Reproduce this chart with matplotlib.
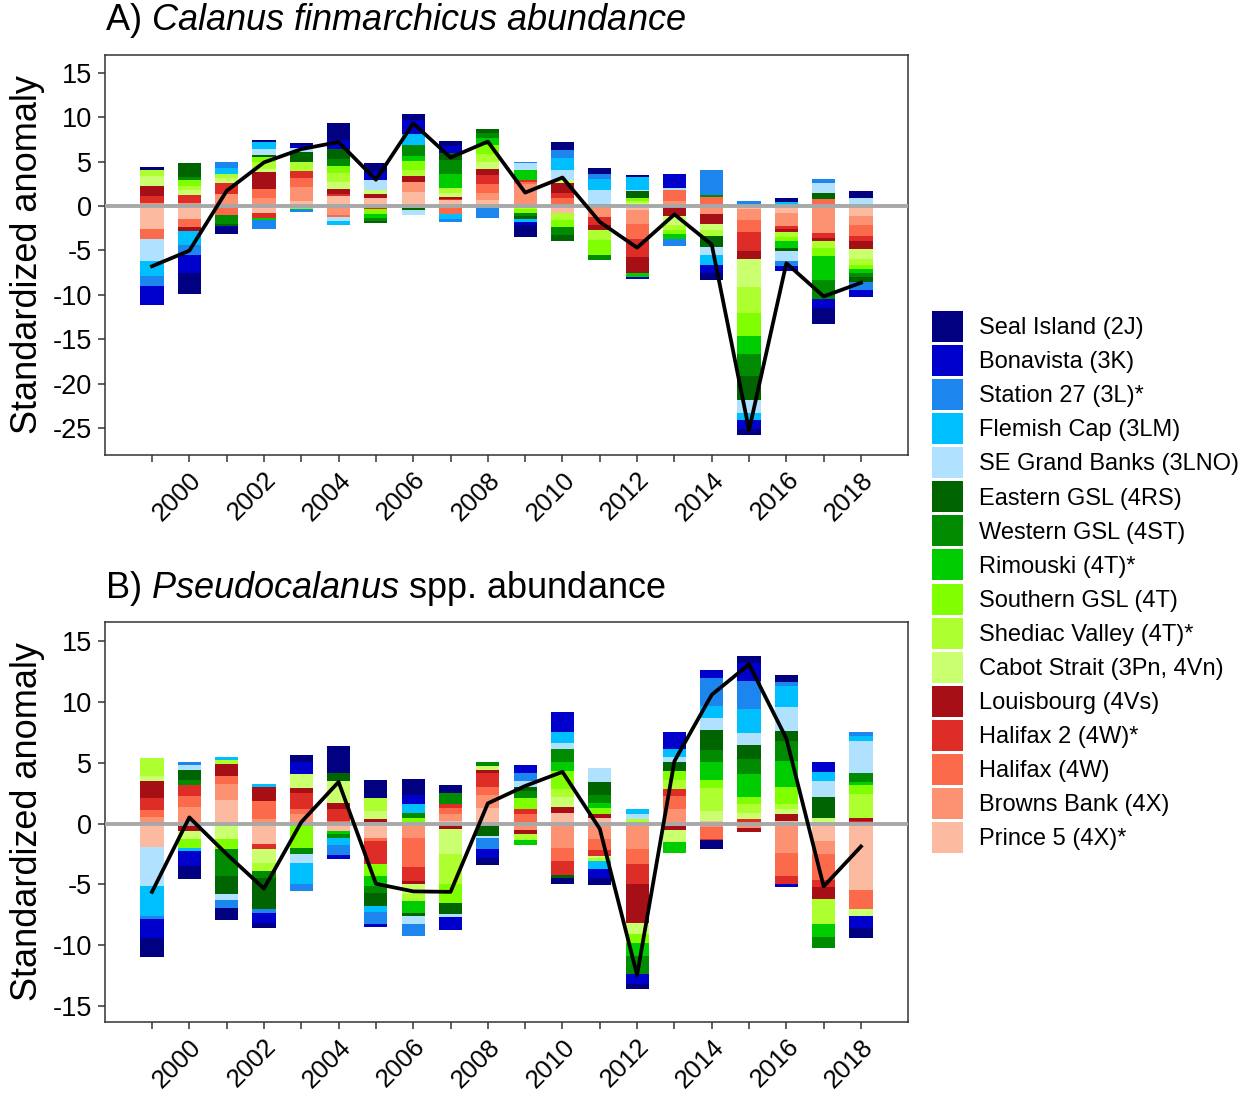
import numpy as np
import matplotlib
matplotlib.use("Agg")
import matplotlib.pyplot as plt
from matplotlib.patches import Patch

plt.rcParams['font.family'] = ['Liberation Sans', 'DejaVu Sans']
plt.rcParams['mathtext.fontset'] = 'custom'
plt.rcParams['mathtext.rm'] = 'Liberation Sans'
plt.rcParams['mathtext.it'] = 'Liberation Sans:italic'
plt.rcParams['axes.unicode_minus'] = False

years = list(range(1999, 2019))

regions = ["Seal Island (2J)", "Bonavista (3K)", "Station 27 (3L)*", "Flemish Cap (3LM)",
           "SE Grand Banks (3LNO)", "Eastern GSL (4RS)", "Western GSL (4ST)", "Rimouski (4T)*",
           "Southern GSL (4T)", "Shediac Valley (4T)*", "Cabot Strait (3Pn, 4Vn)",
           "Louisbourg (4Vs)", "Halifax 2 (4W)*", "Halifax (4W)", "Browns Bank (4X)",
           "Prince 5 (4X)*"]

region_colors = ["#000080", "#0000CD", "#1C86EE", "#00BFFF", "#B0E2FF", "#006400",
                 "#008B00", "#00CD00", "#7FFF00", "#ADFF2F", "#CAFF70", "#A50F15",
                 "#DE2D26", "#FB6A4A", "#FC9272", "#FCBBA1"]

# Calanus finmarchicus abundance anomalies, 1999-2018
cfin_seal_island = [0.23, -2.3, -0.85, 0.2, 0.2, 1.9, 1.0, 0.65, 0.55, 0, -1.3, 0.8, 0.7, 0.25, 0, -0.85, -0.75, 0.45, -1.8, 0.75]
cfin_bonavista = [-2.07, -2.07, -0.1, 0, 0.3, 1.0, 0.9, 1.5, 0.75, 0, -0.35, 0, 0, -0.25, 1.5, -0.9, -0.94, -0.6, -1.0, -0.85]
cfin_station27 = [-1.2, -1.13, 0.65, -1.0, -0.3, 0, 0, 0, -0.4, -1.25, 0.2, 1.0, 0.5, 0, -0.8, 2.8, 0.6, -0.5, 0.45, -0.9]
cfin_flemish_cap = [-1.7, -1.58, 0.7, 0.8, 0, -0.45, 0, 1.25, -0.55, 0, -0.35, 1.3, 1.25, 1.45, 0, -1.05, -0.86, 0.45, 0, 0]
cfin_se_grand_banks = [-2.4, 0, 0, 0.75, 0.5, -0.35, 1.1, -0.5, 0, -0.15, 0.7, 1.1, 1.6, 0.15, 0.25, -0.95, -1.43, -1.15, 1.13, 0.9]
cfin_eastern_gsl = [0, 1.58, -0.25, 0.15, 1.05, 1.15, -0.25, -0.25, 0.8, 0.45, -0.4, -0.65, 0.2, 0.7, 0, -1.2, -2.7, -0.35, 0.68, -0.6]
cfin_western_gsl = [0, 0.38, -1.0, 0, 0, 0.75, -0.3, 1.25, 1.6, 0.55, -0.35, -0.95, -0.55, 0, 0, 0.15, -2.45, 0, -2.1, -0.4]
cfin_rimouski = [0, 0, 0, -0.15, 0, 0, -0.45, 0.6, 1.6, 0.75, 1.15, 0, 0, -0.35, -0.5, 0, -2.07, -0.75, -2.7, -0.45]
cfin_southern_gsl = [0, 0.6, 0, 0.6, -0.35, 0.8, -0.5, 1.0, 0, 1.0, -0.35, -0.8, -1.7, 0.35, -0.5, 0, -2.6, -0.55, -0.9, -0.5]
cfin_shediac = [0.7, 0.5, 0.45, 0.8, 1.1, 0.95, 0, 0.65, 0.5, 1.0, -0.4, -0.7, -1.1, 0.3, -0.6, -0.7, -2.9, -0.5, -0.8, -0.65]
cfin_cabot = [1.1, 0.6, 0.5, 0.3, 0, 0.85, 0.5, -0.25, 0.5, 0.7, 0, 0.35, 0, 0.3, -0.95, -0.7, -3.2, 0, 0, -1.1]
cfin_louisbourg = [1.2, -0.45, 0, 1.95, 0, 0.6, 0.5, 0.75, 0.2, 0.75, 0, 1.1, -0.6, -1.9, -1.15, -1.1, -0.85, -0.3, -0.35, -0.85]
cfin_halifax2 = [0.8, 0.9, 1.2, -0.6, 0.75, 0.2, -0.4, 0, 0.15, 1.0, 0.2, 0.65, -0.8, -2.0, 0, 0, -2.15, -0.35, -0.5, -0.65]
cfin_halifax = [-1.2, -0.94, -1.0, 0.95, 1.0, -0.3, 0, 0, -0.9, 0.95, 0.3, 0.85, 0, -1.7, 1.25, 1.05, -1.35, 0, 0.8, -1.25]
cfin_browns_bank = [0.3, 0.3, 1.4, 0.95, 1.6, -1.0, 0, 1.05, 0, 0.85, 2.45, 0, -1.3, -1.5, 0.55, -0.9, -1.3, -1.5, -3.0, -0.95]
cfin_prince5 = [-2.55, -1.43, 0, -0.8, 0.55, 1.1, 0.85, 1.6, 0.65, 0.65, 0, -0.85, 0, -0.5, 0, 0, -0.3, -0.8, -0.1, -1.15]

# Pseudocalanus spp. abundance anomalies, 1999-2018
pseudo_seal_island = [-1.6, -1.1, -1.04, -0.41, 0.63, 2.16, 1.48, 1.29, 0.6, -0.63, 0, -0.49, -0.55, -0.41, 0, -0.7, 0.55, 0.52, 0, -0.82]
pseudo_bonavista = [-1.5, -1.23, 0, -0.82, 0.96, -0.36, -0.25, 0.77, -1.1, -0.74, 0.71, 1.62, -0.74, -0.82, 1.42, 0.68, 1.51, -0.2, 0.77, -1.01]
pseudo_station27 = [-0.27, 0.27, -0.6, -0.3, -0.6, -0.82, -0.95, -0.96, 0, -0.9, 0.6, 0, 0, 0, 0, 2.33, 2.33, 0.36, 0, 0.36]
pseudo_flemish_cap = [-2.47, -0.22, 0.22, 0.22, -1.73, -0.55, -0.55, 0.68, 0, 0, 0, 0.9, -0.63, 0.41, 0.68, 0.96, 1.92, 1.73, 0.77, 0.41]
pseudo_se_grand_banks = [-3.23, 0.44, -0.55, 0, -0.68, 0, 0, -0.68, -0.27, -0.15, 0.55, 0.55, 1.15, 0.41, 0.41, 0.96, 1.01, 1.97, 1.29, 2.6]
pseudo_eastern_gsl = [0, 0.82, -1.45, -2.55, 0, 0.68, -1.05, -0.2, -0.9, -1.0, 0.3, -0.22, 1.1, 0, 0.68, 1.64, 1.18, 0.82, 1.73, 0]
pseudo_western_gsl = [0, 0.38, -2.19, -0.6, -0.55, -0.33, -0.6, 0.41, 0.96, 0.33, 0.6, 1.01, 0.63, -1.5, 0, 1.01, 1.23, 1.64, -0.88, 0.74]
pseudo_rimouski = [0, 0, 0, 0, 0, -0.27, -0.8, -1.04, 0, 0, -0.38, 0.77, 0.47, -1.1, -0.9, 1.53, 1.86, 2.14, -1.04, 0.27]
pseudo_southern_gsl = [0, -0.74, -0.82, 0, -1.97, 0, -1.0, 0.49, -1.5, 0, 0.9, 1.51, 0.49, -0.75, 0.77, 0.6, 0.6, 1.37, 0, 0.77]
pseudo_shediac = [1.42, 0, 0.33, -0.68, 0, 0, 1.04, -0.55, -2.47, 0, -0.49, 0.63, -0.25, 0.36, 0.74, 1.92, 0.68, 0.42, -2.05, 1.92]
pseudo_cabot = [0.47, -0.68, -1.29, -1.1, 1.1, 1.84, 0.68, -0.85, -2.05, 0.36, 0, 0.82, -0.2, -0.9, -0.94, 0.82, 0.55, 0.4, 0.47, -0.55]
pseudo_louisbourg = [1.37, -0.6, 0.96, 1.15, 0.41, 0.49, 0.2, -0.22, -0.47, 0.25, -0.33, 0.47, 0.27, -3.2, -0.36, 0, -0.35, 0.6, -1.01, 0.27]
pseudo_halifax2 = [0.99, 0.9, 0, -0.47, 1.37, 0.96, -1.85, -1.15, 0.33, 1.1, 0.41, -1.15, -0.47, -1.59, 0.55, -0.12, 0.36, -0.68, -0.55, 0.2]
pseudo_halifax = [0.52, 0.9, 0.63, 1.5, 0.36, 0.22, -0.25, -2.41, 0.44, 0.68, 0.77, -1.1, -0.9, -1.23, 1.1, -0.95, 0, -1.92, -2.14, -1.56]
pseudo_browns_bank = [0.58, 1.37, 1.34, 0.36, 0.82, 0, 0.16, -1.15, 0.6, 1.04, -0.55, -1.97, -1.29, -1.92, 1.18, -0.3, -0.35, -2.38, -1.1, 0]
pseudo_prince5 = [-1.89, 0, 1.95, -1.64, 0, -0.6, -1.2, 0, 0.22, 1.32, 0, 0.9, 0.49, -0.2, -0.2, 0.2, 0, 0.2, -1.42, -5.48]

cfin_series = [cfin_seal_island, cfin_bonavista, cfin_station27, cfin_flemish_cap,
               cfin_se_grand_banks, cfin_eastern_gsl, cfin_western_gsl, cfin_rimouski,
               cfin_southern_gsl, cfin_shediac, cfin_cabot, cfin_louisbourg, cfin_halifax2,
               cfin_halifax, cfin_browns_bank, cfin_prince5]
pseudo_series = [pseudo_seal_island, pseudo_bonavista, pseudo_station27, pseudo_flemish_cap,
                 pseudo_se_grand_banks, pseudo_eastern_gsl, pseudo_western_gsl, pseudo_rimouski,
                 pseudo_southern_gsl, pseudo_shediac, pseudo_cabot, pseudo_louisbourg,
                 pseudo_halifax2, pseudo_halifax, pseudo_browns_bank, pseudo_prince5]

W, H = 1251, 1093
fig = plt.figure(figsize=(W / 100, H / 100), dpi=100)


def px_axes(left, top, right, bottom):
    return fig.add_axes([left / W, 1 - bottom / H, (right - left) / W, (bottom - top) / H])


def draw_panel(ax, series, ylim, yticks):
    x = np.array(years, dtype=float)
    pos = np.zeros(len(years))
    neg = np.zeros(len(years))
    # stack outward from zero: last region first
    for vals, col in zip(reversed(series), reversed(region_colors)):
        v = np.array(vals, dtype=float)
        p = np.where(v > 0, v, 0)
        n = np.where(v < 0, v, 0)
        ax.bar(x, p, bottom=pos, width=0.62, color=col, linewidth=0, zorder=2)
        ax.bar(x, n, bottom=neg, width=0.62, color=col, linewidth=0, zorder=2)
        pos += p
        neg += n
    total = np.sum(np.array(series, dtype=float), axis=0)
    ax.axhline(0, color="#A8A8A8", lw=2.8, zorder=3)
    ax.plot(x, total, color="black", lw=2.7, zorder=4)
    ax.set_xlim(1997.74, 2019.26)
    ax.set_ylim(*ylim)
    ax.set_yticks(yticks)
    ax.set_xticks(years)
    ax.set_xticklabels([str(y) if y % 2 == 0 else "" for y in years],
                       rotation=45, ha="right", va="top", rotation_mode="anchor")
    ax.tick_params(axis="both", colors="#333333", labelcolor="black", length=5, width=1.1)
    ax.tick_params(axis="y", labelsize=19.5, pad=4.5)
    ax.tick_params(axis="x", labelsize=18.5, pad=4)
    for s in ax.spines.values():
        s.set_color("#333333")
        s.set_linewidth(1.1)
    ax.set_ylabel("Standardized anomaly", fontsize=26)
    ax.yaxis.set_label_coords(-0.0747, 0.5)


ax_a = px_axes(105, 55, 908, 455)
draw_panel(ax_a, cfin_series, (-28.05, 17.0), [-25, -20, -15, -10, -5, 0, 5, 10, 15])
ax_b = px_axes(105, 622, 908, 1022)
draw_panel(ax_b, pseudo_series, (-16.3, 16.56), [-15, -10, -5, 0, 5, 10, 15])

fig.text(105 / W, 1 - 21 / H, r"A) $\mathit{Calanus\ finmarchicus\ abundance}$",
         fontsize=26, ha="left", va="center")
fig.text(105 / W, 1 - 588 / H, r"B) $\mathit{Pseudocalanus}$ spp. abundance",
         fontsize=26, ha="left", va="center")

handles = [Patch(facecolor=c, edgecolor="none", label=r) for r, c in zip(regions, region_colors)]
fig.legend(handles=handles, loc="center left", bbox_to_anchor=(932 / W, 1 - 582 / H),
           frameon=False, fontsize=17, handlelength=1.31, handleheight=1.643,
           labelspacing=0.13, handletextpad=0.68, borderpad=0, borderaxespad=0)

fig.savefig("out.png", dpi=100, facecolor="white")
